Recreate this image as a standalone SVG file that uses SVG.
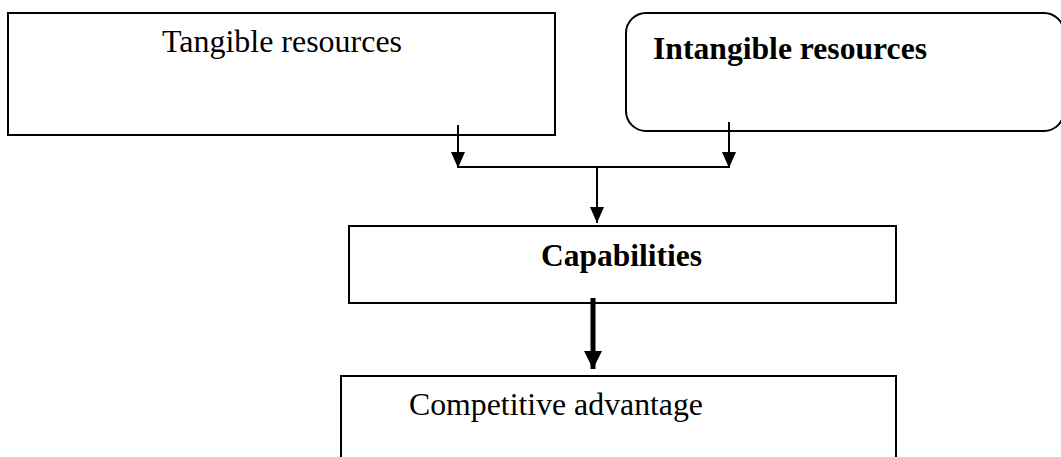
<svg xmlns="http://www.w3.org/2000/svg" width="1061" height="457" viewBox="0 0 1061 457">
  <style>
    .box { fill: #ffffff; stroke: #000000; stroke-width: 2; }
    .lbl { font-family: "Liberation Serif", "Times New Roman", serif; font-size: 31.5px; fill: #000000; }
    .bold { font-weight: bold; }
    .conn { stroke: #000000; stroke-width: 2; fill: none; }
    .thick { stroke: #000000; stroke-width: 5; fill: none; }
  </style>
  <defs>
    <marker id="arrow" viewBox="0 0 16 14" refX="16" refY="7" markerWidth="16" markerHeight="14" markerUnits="userSpaceOnUse" orient="auto">
      <path d="M0,0 L16,7 L0,14 z" fill="#000000"/>
    </marker>
    <marker id="arrowBig" viewBox="0 0 18 18" refX="18" refY="9" markerWidth="18" markerHeight="18" markerUnits="userSpaceOnUse" orient="auto">
      <path d="M0,0 L18,9 L0,18 z" fill="#000000"/>
    </marker>
  </defs>
  <rect width="1061" height="457" fill="#ffffff"/>

  <g id="tangible">
    <rect class="box" x="8" y="13" width="547" height="122"/>
    <text class="lbl" x="162" y="52" textLength="240" lengthAdjust="spacingAndGlyphs">Tangible resources</text>
  </g>

  <g id="intangible">
    <rect class="box" x="626" y="13" width="438" height="118" rx="20" ry="20"/>
    <text class="lbl bold" x="653" y="59" textLength="274" lengthAdjust="spacingAndGlyphs">Intangible resources</text>
  </g>

  <g id="capabilities">
    <rect class="box" x="349" y="226" width="547" height="77"/>
    <text class="lbl bold" x="541" y="266" textLength="161" lengthAdjust="spacingAndGlyphs">Capabilities</text>
  </g>

  <g id="competitive">
    <path class="box" d="M341,470 L341,376 L896,376 L896,470"/>
    <text class="lbl" x="409" y="415" textLength="294" lengthAdjust="spacingAndGlyphs">Competitive advantage</text>
  </g>

  <g id="connectors">
    <line class="conn" x1="458" y1="125" x2="458" y2="168" marker-end="url(#arrow)"/>
    <line class="conn" x1="729" y1="122" x2="729" y2="168" marker-end="url(#arrow)"/>
    <line class="conn" x1="458" y1="167" x2="729" y2="167"/>
    <line class="conn" x1="597" y1="167" x2="597" y2="223" marker-end="url(#arrow)"/>
    <line class="thick" x1="593" y1="298" x2="593" y2="369" marker-end="url(#arrowBig)"/>
  </g>
</svg>
